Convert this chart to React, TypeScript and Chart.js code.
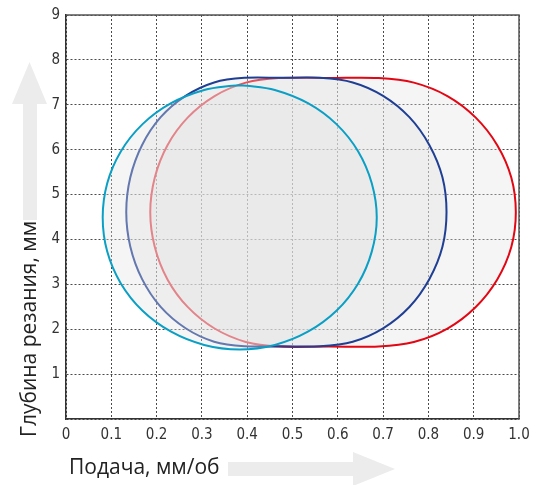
import React, { useEffect, useRef } from 'react';
import { Chart, registerables } from 'chart.js';

Chart.register(...registerables);

const xTickLabels = ['0', '0.1', '0.2', '0.3', '0.4', '0.5', '0.6', '0.7', '0.8', '0.9', '1.0'];
const yTickLabels = ['', '1', '2', '3', '4', '5', '6', '7', '8', '9'];

const xTitle = 'Подача, мм/об';
const yTitle = 'Глубина резания, мм';

// Red outline (clockwise from the middle of the top edge)
const redX = [0.58, 0.690, 0.768, 0.842, 0.904, 0.952, 0.983, 0.993, 0.983, 0.952, 0.904, 0.842, 0.768, 0.690, 0.58, 0.470, 0.397, 0.328, 0.269, 0.224, 0.196, 0.186, 0.196, 0.224, 0.269, 0.328, 0.397, 0.470, 0.58];
const redY = [7.595, 7.595, 7.493, 7.194, 6.719, 6.100, 5.379, 4.605, 3.831, 3.110, 2.491, 2.016, 1.717, 1.615, 1.615, 1.615, 1.717, 2.016, 2.491, 3.110, 3.831, 4.605, 5.379, 6.100, 6.719, 7.194, 7.493, 7.595, 7.595];

// Dark blue outline
const blueX = [0.477, 0.560, 0.633, 0.700, 0.758, 0.802, 0.831, 0.840, 0.831, 0.802, 0.758, 0.700, 0.633, 0.560, 0.477, 0.394, 0.327, 0.264, 0.209, 0.168, 0.142, 0.133, 0.142, 0.168, 0.209, 0.264, 0.327, 0.394, 0.477];
const blueY = [7.600, 7.600, 7.498, 7.199, 6.724, 6.105, 5.384, 4.610, 3.836, 3.115, 2.496, 2.021, 1.722, 1.620, 1.620, 1.620, 1.722, 2.021, 2.496, 3.115, 3.836, 4.610, 5.384, 6.105, 6.724, 7.199, 7.498, 7.600, 7.600];

// Cyan outline
const cyanX = [0.383, 0.399, 0.461, 0.534, 0.597, 0.645, 0.675, 0.686, 0.675, 0.645, 0.597, 0.534, 0.461, 0.383, 0.305, 0.232, 0.169, 0.121, 0.091, 0.081, 0.091, 0.121, 0.169, 0.232, 0.305, 0.367, 0.383];
const cyanY = [7.430, 7.426, 7.330, 7.036, 6.569, 5.960, 5.251, 4.490, 3.729, 3.020, 2.411, 1.944, 1.650, 1.550, 1.650, 1.944, 2.411, 3.020, 3.729, 4.490, 5.251, 5.960, 6.569, 7.036, 7.330, 7.426, 7.430];

const toPts = (xs: number[], ys: number[]) => xs.map((x, i) => ({ x, y: ys[i] }));

const tickFamily = "'Liberation Sans Narrow', 'DejaVu Sans Condensed', 'Arial Narrow', Roboto, sans-serif";
const titleFamily = "'Open Sans', 'Noto Sans', sans-serif";

const decor = {
  id: 'decor',
  beforeDraw(chart: any) {
    const ctx = chart.ctx;
    ctx.save();
    ctx.fillStyle = '#ececec';
    ctx.beginPath();
    ctx.moveTo(23, 220);
    ctx.lineTo(23, 104);
    ctx.lineTo(12, 104);
    ctx.lineTo(29.5, 62);
    ctx.lineTo(47, 104);
    ctx.lineTo(37, 104);
    ctx.lineTo(37, 220);
    ctx.closePath();
    ctx.fill();
    ctx.beginPath();
    ctx.moveTo(228, 462);
    ctx.lineTo(353, 462);
    ctx.lineTo(353, 452);
    ctx.lineTo(395, 469);
    ctx.lineTo(353, 486);
    ctx.lineTo(353, 476);
    ctx.lineTo(228, 476);
    ctx.closePath();
    ctx.fill();
    ctx.restore();
  },
  beforeDatasetsDraw(chart: any) {
    const { ctx, chartArea: a } = chart;
    ctx.save();
    ctx.strokeStyle = '#555';
    ctx.lineWidth = 1.5;
    ctx.beginPath();
    ctx.moveTo(a.left, a.top);
    ctx.lineTo(a.right, a.top);
    ctx.lineTo(a.right, a.bottom);
    ctx.stroke();
    ctx.restore();
  },
  afterDraw(chart: any) {
    const ctx = chart.ctx;
    ctx.save();
    ctx.fillStyle = '#222';
    ctx.font = `21px ${titleFamily}`;
    ctx.textBaseline = 'alphabetic';
    ctx.textAlign = 'left';
    ctx.fillText(xTitle, 69, 474);
    ctx.translate(36, 437);
    ctx.rotate(-Math.PI / 2);
    ctx.fillText(yTitle, 0, 0);
    ctx.restore();
  },
};

export default function App() {
  const ref = useRef<HTMLCanvasElement | null>(null);

  useEffect(() => {
    if (!ref.current) return;
    const fill = 'rgba(225,225,225,0.35)';
    const common = { backgroundColor: fill, fill: 'shape', borderWidth: 2, pointRadius: 0, pointHoverRadius: 0, tension: 0.34 };
    const chart = new Chart(ref.current, {
      type: 'line',
      data: {
        datasets: [
          { label: 'cyan', data: toPts(cyanX, cyanY), borderColor: '#0a9fc4', ...common },
          { label: 'blue', data: toPts(blueX, blueY), borderColor: '#1f3f94', ...common },
          { label: 'red', data: toPts(redX, redY), borderColor: '#e30613', ...common },
        ] as any,
      },
      options: {
        animation: false,
        responsive: false,
        layout: { padding: { left: 0, right: 18, top: 13, bottom: 0 } },
        plugins: {
          legend: { display: false },
          tooltip: { enabled: false },
        },
        events: [],
        scales: {
          x: {
            type: 'linear',
            min: 0,
            max: 1,
            ticks: {
              stepSize: 0.1,
              autoSkip: false,
              maxRotation: 0,
              padding: 7,
              color: '#333',
              font: { family: tickFamily, size: 15 },
              callback: (_v: any, i: number) => xTickLabels[i],
            },
            grid: { color: '#4a4a4a', lineWidth: 1, drawTicks: false },
            border: { display: true, color: '#333', width: 1.5, dash: [2, 2] },
            afterFit: (s: any) => { s.height = 66; },
          },
          y: {
            type: 'linear',
            min: 0,
            max: 9,
            ticks: {
              stepSize: 1,
              autoSkip: false,
              padding: 6,
              color: '#333',
              font: { family: tickFamily, size: 15 },
              callback: (_v: any, i: number) => yTickLabels[i],
            },
            grid: { color: '#4a4a4a', lineWidth: 1, drawTicks: false },
            border: { display: true, color: '#333', width: 1.5, dash: [2, 2] },
            afterFit: (s: any) => { s.width = 66; },
          },
        },
      } as any,
      plugins: [decor],
    });
    return () => chart.destroy();
  }, []);

  return (
    <div style={{ position: 'absolute', left: 0, top: 0, width: 537, height: 485, background: '#fff' }}>
      <canvas ref={ref} width={537} height={485} style={{ display: 'block' }} />
    </div>
  );
}
